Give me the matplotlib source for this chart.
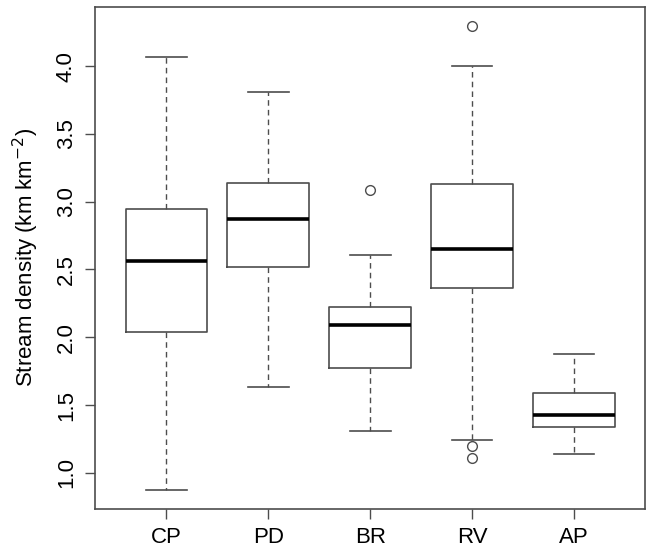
import matplotlib
matplotlib.use("Agg")
import matplotlib.pyplot as plt

plt.rcParams['font.family'] = ['Liberation Sans', 'DejaVu Sans']

# data
regions = ["CP", "PD", "BR", "RV", "AP"]
whisker_low = [0.87, 1.63, 1.31, 1.24, 1.14]
q1 = [2.04, 2.52, 1.77, 2.36, 1.34]
medians = [2.56, 2.87, 2.09, 2.65, 1.43]
q3 = [2.95, 3.14, 2.22, 3.13, 1.59]
whisker_high = [4.07, 3.81, 2.61, 4.00, 1.88]
outliers = [[], [], [3.09], [4.30, 1.20, 1.11], []]

ytick_vals = [1.0, 1.5, 2.0, 2.5, 3.0, 3.5, 4.0]

stats = []
for i, name in enumerate(regions):
    stats.append({
        "label": name,
        "whislo": whisker_low[i],
        "q1": q1[i],
        "med": medians[i],
        "q3": q3[i],
        "whishi": whisker_high[i],
        "fliers": outliers[i],
    })

fig = plt.figure(figsize=(6.53, 5.52), dpi=100)
ax = fig.add_axes([0.1455, 0.0779, 0.8427, 0.91])

edge = "#4d4d4d"
ax.bxp(stats, positions=range(1, len(regions) + 1), widths=0.8,
       boxprops=dict(color=edge, linewidth=1.2),
       medianprops=dict(color="black", linewidth=2.6),
       whiskerprops=dict(color=edge, linewidth=1.0, linestyle=(0, (4, 3))),
       capprops=dict(color=edge, linewidth=1.2),
       flierprops=dict(marker="o", markerfacecolor="none", markeredgecolor=edge,
                       markersize=7, markeredgewidth=1.0),
       capwidths=0.4)

ax.set_xlim(0.3, 5.7)
ax.set_ylim(0.733, 4.439)

ax.set_yticks(ytick_vals)
ax.set_yticklabels([f"{v:.1f}" for v in ytick_vals], rotation=90, va="center")
ax.set_xticks(range(1, len(regions) + 1))
ax.set_xticklabels(regions)

ax.tick_params(axis="both", labelsize=16, length=7, width=1.0, color=edge, pad=6)
for sp in ax.spines.values():
    sp.set_color(edge)
    sp.set_linewidth(1.2)

ax.set_ylabel("Stream density (km km$^{-2}$)", fontsize=16, labelpad=11)

fig.savefig("out.png", dpi=100, facecolor="white")
